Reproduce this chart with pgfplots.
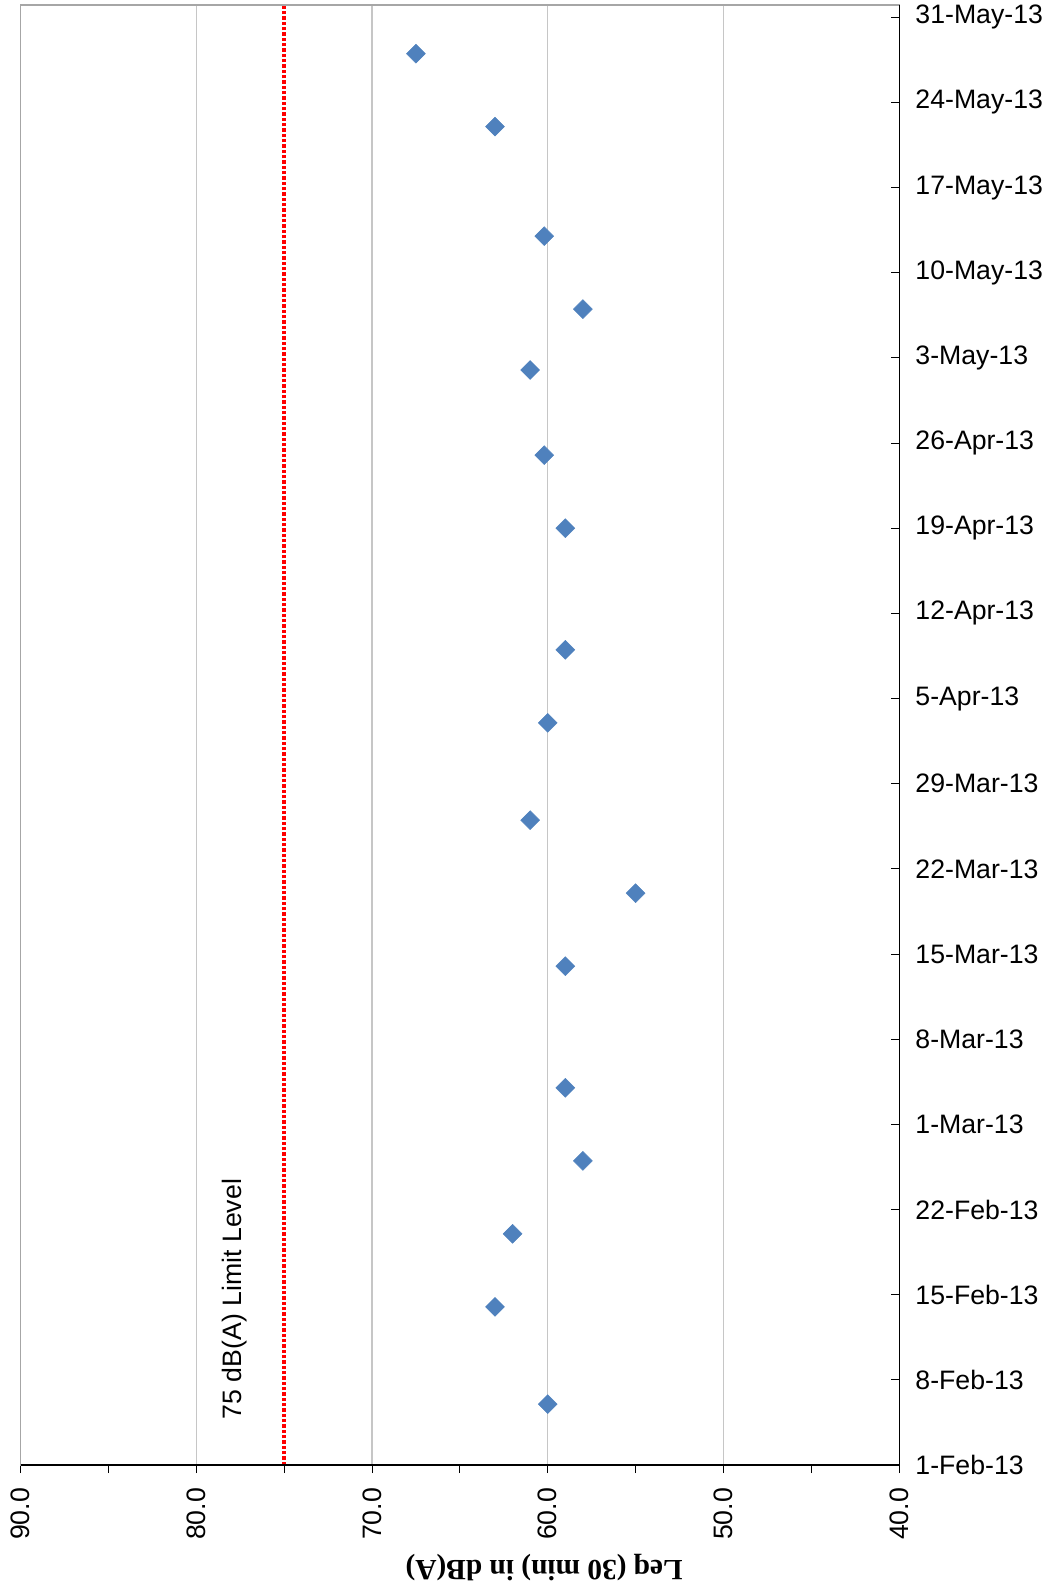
\documentclass[border=0pt]{standalone}
\usepackage{fontspec}
\setmainfont{Liberation Sans}
\newfontfamily\timesfont{Liberation Serif}
\usepackage{pgfplots}
\pgfplotsset{compat=1.18}
\definecolor{ptblue}{HTML}{4F81BD}
\begin{document}
\begin{tikzpicture}
\begin{axis}[name=ax, scale only axis, width=659pt, height=1095pt,
  xmin=40, xmax=90, x dir=reverse, ymin=0, ymax=120,
  xtick={40,50,60,70,80,90},
  xticklabels={40.0,50.0,60.0,70.0,80.0,90.0},
  minor xtick={45,55,65,75,85},
  ytick={0,7,...,119},
  yticklabels={1-Feb-13,8-Feb-13,15-Feb-13,22-Feb-13,1-Mar-13,8-Mar-13,15-Mar-13,22-Mar-13,29-Mar-13,5-Apr-13,12-Apr-13,19-Apr-13,26-Apr-13,3-May-13,10-May-13,17-May-13,24-May-13,31-May-13},
  xtick pos=lower, ytick pos=right, yticklabel pos=right,
  tick align=outside, major tick length=6pt, minor tick length=6pt,
  every major y tick/.append style={xshift=-6pt},
  tick style={black, line width=0.6pt},
  xmajorgrids, major grid style={gray!45, line width=0.8pt},
  axis line style={gray!70, line width=1pt},
  xticklabel style={rotate=90, anchor=east, inner sep=0pt, font=\fontsize{20}{24}\selectfont},
  yticklabel style={anchor=west, inner sep=0pt, font=\fontsize{20}{24}\selectfont},
  xticklabel shift=11pt, yticklabel shift=6pt,
  clip=false,
]
\addplot[red, line width=3.2pt, dash pattern=on 2.5pt off 1.5pt] coordinates {(75,0) (75,120)};
\draw[black, line width=1pt] (rel axis cs:0,0) -- (rel axis cs:1,0) -- (rel axis cs:1,1);
\addplot[only marks, mark=square*, mark size=5pt, mark options={rotate=45, fill=ptblue, draw=ptblue}] coordinates {
(67.5,116) (63,110) (60.2,101) (58,95) (61,90) (60.2,83) (59,77) (59,67) (60,61) (61,53) (55,47) (59,41) (59,31) (58,25) (62,19) (63,13) (60,5)};
\node[rotate=90, anchor=west, inner sep=0pt, font=\fontsize{20}{24}\selectfont] at (axis cs:77.8,3.75) {75 dB(A) Limit Level};
\node[rotate=180, inner sep=0pt, font=\timesfont\bfseries\fontsize{22}{26}\selectfont] at ([yshift=-77pt]rel axis cs:0.596,0) {Leq (30 min) in dB(A)};
\end{axis}
\pgfresetboundingbox
\path[use as bounding box] ([xshift=-15.4pt,yshift=3.75pt]ax.north west) rectangle ([xshift=109.5pt,yshift=-93pt]ax.south east);
\end{tikzpicture}
\end{document}
